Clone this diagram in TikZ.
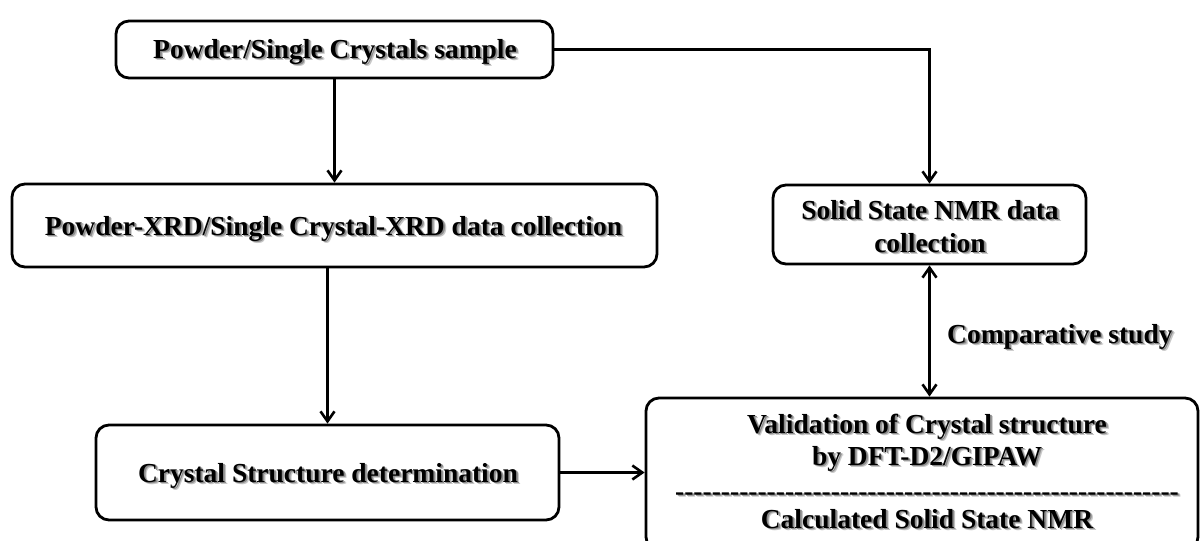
\documentclass[tikz,border=0pt]{standalone}
\usepackage{fontspec}
\setmainfont{Liberation Serif}
\usetikzlibrary{arrows.meta}

\newcommand\labelfont{\fontsize{27.5}{33}\selectfont\bfseries}
% a row of separate hyphens (kerns keep them from merging into dashes)
\newcommand\hyphenrow{\foreach \k in {1,...,55}{-\kern0pt}}
% text with a soft grey drop shadow: [options] {name} {x,y} {text}
\newcommand\shadowed[4][]{%
  \node[lbl,#1, text=black!22, xshift=2.8pt, yshift=-2.8pt] at (#3) {#4};
  \node[lbl,#1, text=black!45, xshift=1.7pt, yshift=-1.7pt] at (#3) {#4};
  \node[lbl,#1] (#2) at (#3) {#4};}

\begin{document}
\begin{tikzpicture}[x=1pt,y=-1pt,
  box/.style={draw, line width=2.8pt, rounded corners=13pt, inner sep=0pt},
  lbl/.style={font=\labelfont, inner sep=0pt, anchor=base},
  conn/.style={line width=2.8pt, -{Straight Barb[length=10pt,width=14pt,line width=2.6pt]}},
  biconn/.style={line width=2.8pt, {Straight Barb[length=10pt,width=14pt,line width=2.6pt]}-{Straight Barb[length=10pt,width=14pt,line width=2.6pt]}}]
\useasboundingbox (0,0) rectangle (1200,541);
\clip (0,0) rectangle (1200,541);

% boxes
\node[box, minimum width=437pt, minimum height=57pt] (A) at (334.5,49.5) {};
\node[box, minimum width=645pt, minimum height=83pt] (B) at (334.5,225.5) {};
\node[box, minimum width=463pt, minimum height=95pt] (C) at (327.5,472.5) {};
\node[box, minimum width=552pt, minimum height=152pt] (D) at (922,474) {};
\node[box, minimum width=313pt, minimum height=79pt] (E) at (929.5,224.5) {};

% labels
\shadowed{tA}{335,58}{Powder/Single Crystals sample}
\shadowed{tB}{333.5,235}{Powder-XRD/Single Crystal-XRD data collection}
\shadowed{tC}{328,482}{Crystal Structure determination}
\shadowed{tE1}{930,219}{Solid State NMR data}
\shadowed{tE2}{930,252}{collection}
\shadowed{tD1}{927,433}{Validation of Crystal structure}
\shadowed{tD2}{927,465}{by DFT-D2/GIPAW}
\shadowed{tD3}{927,500}{\hyphenrow}
\shadowed{tD4}{927,528}{Calculated Solid State NMR}
\shadowed[anchor=base west]{tCmp}{947,343}{Comparative study}

% connectors
\draw[conn] (A.south) -- (A.south |- B.north);
\draw[conn] (B.south -| C.north) -- (C.north);
\draw[conn] (C.east) -- (C.east -| D.west);
\draw[conn] (A.east) -- (A.east -| E.north) -- (E.north);
\draw[biconn] (E.south) -- (E.south |- D.north);
\end{tikzpicture}
\end{document}
